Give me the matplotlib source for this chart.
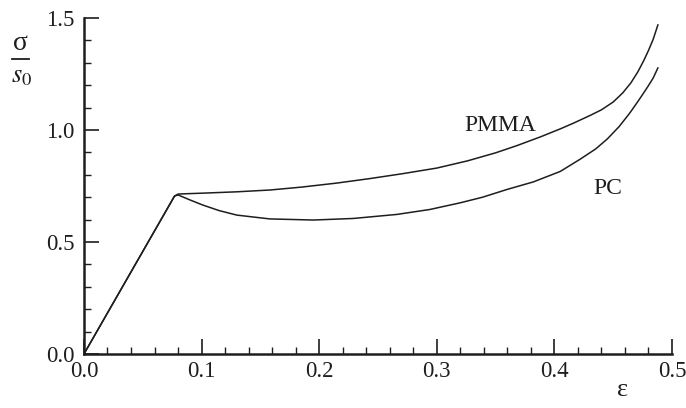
import matplotlib
matplotlib.use('Agg')

import matplotlib.pyplot as plt
from matplotlib.lines import Line2D
from matplotlib.ticker import MultipleLocator

# --- data (strain, normalised stress) ---
pmma_strain = [0.0, 0.077, 0.080, 0.090, 0.101, 0.130, 0.158, 0.185, 0.215,
               0.243, 0.271, 0.300, 0.326, 0.350, 0.368, 0.388, 0.405, 0.416,
               0.430, 0.440, 0.450, 0.458, 0.465, 0.471, 0.476, 0.480, 0.484,
               0.488]
pmma_stress = [0.0, 0.705, 0.714, 0.716, 0.718, 0.724, 0.732, 0.745, 0.763,
               0.783, 0.805, 0.830, 0.862, 0.898, 0.930, 0.969, 1.005, 1.030,
               1.064, 1.090, 1.125, 1.165, 1.210, 1.260, 1.310, 1.355, 1.405,
               1.469]

pc_strain = [0.0, 0.077, 0.080, 0.090, 0.101, 0.115, 0.130, 0.158, 0.195,
             0.229, 0.266, 0.294, 0.320, 0.339, 0.360, 0.382, 0.405, 0.422,
             0.435, 0.445, 0.455, 0.464, 0.472, 0.479, 0.484, 0.488]
pc_stress = [0.0, 0.705, 0.710, 0.688, 0.665, 0.640, 0.620, 0.603, 0.598,
             0.605, 0.623, 0.645, 0.675, 0.700, 0.735, 0.768, 0.815, 0.870,
             0.915, 0.960, 1.015, 1.075, 1.135, 1.190, 1.232, 1.277]

x_ticks = [0.0, 0.1, 0.2, 0.3, 0.4, 0.5]
y_ticks = [0.0, 0.5, 1.0, 1.5]

INK = '#1e1e1e'

plt.rcParams['font.family'] = ['Liberation Serif', 'DejaVu Serif']
plt.rcParams['mathtext.fontset'] = 'stix'

fig = plt.figure(figsize=(6.86, 4.08), dpi=100)
ax = fig.add_axes([0.1224, 0.1324, 0.8572, 0.8235])

line_kw = dict(color=INK, lw=1.1, solid_joinstyle='round')
ax.plot(pmma_strain, pmma_stress, **line_kw)
ax.plot(pc_strain, pc_stress, **line_kw)

ax.set_xlim(0, 0.5)
ax.set_ylim(0, 1.5)
ax.set_xticks(x_ticks)
ax.set_yticks(y_ticks)
ax.set_xticklabels([f"{v:.1f}" for v in x_ticks])
ax.set_yticklabels([f"{v:.1f}" for v in y_ticks])
ax.xaxis.set_minor_locator(MultipleLocator(0.02))
ax.yaxis.set_minor_locator(MultipleLocator(0.1))

for side in ['top', 'right']:
    ax.spines[side].set_visible(False)
for side in ['left', 'bottom']:
    ax.spines[side].set_linewidth(1.8)
    ax.spines[side].set_color(INK)

ax.tick_params(which='major', direction='in', length=11, width=1.2,
               labelsize=16.5, colors=INK)
ax.tick_params(which='minor', direction='in', length=5, width=1.0, colors=INK)
ax.tick_params(axis='y', which='major', pad=7)
ax.tick_params(axis='x', which='major', pad=5)

ax.text(0.354, 1.022, "PMMA", fontsize=17, ha='center', va='center', color=INK)
ax.text(0.4456, 0.737, "PC", fontsize=17, ha='center', va='center', color=INK)

# x label (epsilon, upright) below the axis, near the right end
fig.text(0.907, 0.045, "ε", fontsize=19, ha='center', va='center', color=INK)

# y label: sigma over s_0, drawn as a stacked fraction
fig.text(0.030, 0.893, "σ", fontsize=20, ha='center', va='center', color=INK)
fig.add_artist(Line2D([0.018, 0.043], [0.855, 0.855], transform=fig.transFigure,
                      color=INK, lw=1.3))
fig.text(0.031, 0.812, r"$s_{0}$", fontsize=19, ha='center', va='center', color=INK)

fig.savefig('out.png', dpi=100)
